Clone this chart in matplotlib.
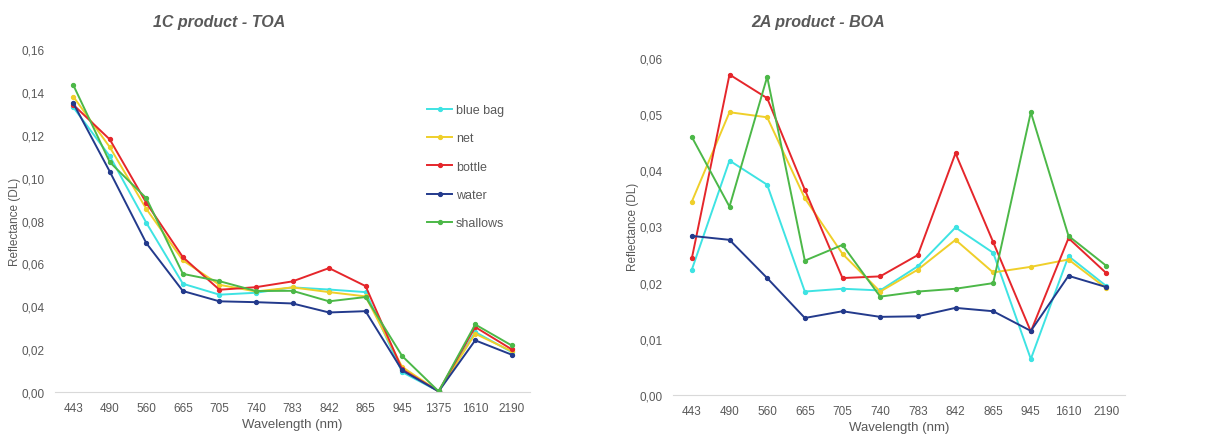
import matplotlib
matplotlib.use("Agg")
import matplotlib.pyplot as plt
from matplotlib.ticker import FuncFormatter

plt.rcParams["font.family"] = ["Liberation Sans", "DejaVu Sans"]

# wavelengths (nm)
toa_bands = ["443", "490", "560", "665", "705", "740", "783", "842", "865", "945", "1375", "1610", "2190"]
boa_bands = ["443", "490", "560", "665", "705", "740", "783", "842", "865", "945", "1610", "2190"]

# 1C product - TOA reflectance
toa_blue_bag = [0.1328, 0.110, 0.0789, 0.0505, 0.0454, 0.0463, 0.0488, 0.0478, 0.0466, 0.0093, 0.0003, 0.0280, 0.0186]
toa_net      = [0.1378, 0.1142, 0.0854, 0.0614, 0.0500, 0.0469, 0.0488, 0.0466, 0.0446, 0.0117, 0.0003, 0.0272, 0.0190]
toa_bottle   = [0.1340, 0.1178, 0.0882, 0.0629, 0.0477, 0.0489, 0.0516, 0.0578, 0.0494, 0.0106, 0.0003, 0.0303, 0.0199]
toa_water    = [0.1347, 0.1028, 0.0694, 0.0471, 0.0423, 0.0419, 0.0413, 0.0371, 0.0377, 0.0101, 0.0003, 0.0241, 0.0174]
toa_shallows = [0.1432, 0.1072, 0.0904, 0.0551, 0.0517, 0.0471, 0.0472, 0.0423, 0.0443, 0.0168, 0.0003, 0.0315, 0.0217]

# 2A product - BOA reflectance
boa_blue_bag = [0.0223, 0.0417, 0.0374, 0.0184, 0.0189, 0.0186, 0.0229, 0.0298, 0.0253, 0.0064, 0.0247, 0.0194]
boa_net      = [0.0344, 0.0503, 0.0494, 0.0350, 0.0251, 0.0184, 0.0223, 0.0276, 0.0218, 0.0228, 0.0241, 0.0190]
boa_bottle   = [0.0243, 0.0570, 0.0528, 0.0365, 0.0208, 0.0211, 0.0249, 0.0430, 0.0272, 0.0113, 0.0279, 0.0217]
boa_water    = [0.0283, 0.0276, 0.0208, 0.0137, 0.0149, 0.0139, 0.0140, 0.0155, 0.0149, 0.0114, 0.0212, 0.0192]
boa_shallows = [0.0459, 0.0335, 0.0566, 0.0239, 0.0267, 0.0175, 0.0184, 0.0189, 0.0199, 0.0503, 0.0283, 0.0230]

names = ["blue bag", "net", "bottle", "water", "shallows"]
colors = ["#3EE3E3", "#EFCF2A", "#E5262B", "#233A8C", "#4CB848"]

W, H = 1209, 435
fig = plt.figure(figsize=(W / 100, H / 100), dpi=100)
grey = "#595959"
comma = FuncFormatter(lambda v, p: f"{v:.2f}".replace(".", ","))


def draw(ax, bands, series, ymax, step):
    x = list(range(len(bands)))
    lines = []
    for vals, name, c in zip(series, names, colors):
        ln, = ax.plot(x, vals, color=c, lw=1.4, marker="o", ms=2.8, label=name)
        lines.append(ln)
    ax.set_xlim(-0.5, len(bands) - 0.5)
    ax.set_ylim(0, ymax)
    ax.set_xticks(x)
    ax.set_xticklabels(bands)
    ticks = [i * step for i in range(int(round(ymax / step)) + 1)]
    ax.set_yticks(ticks)
    ax.yaxis.set_major_formatter(comma)
    for s in ["top", "right", "left"]:
        ax.spines[s].set_visible(False)
    ax.spines["bottom"].set_color("#d9d9d9")
    ax.tick_params(length=0, labelsize=8.5, labelcolor=grey)
    ax.tick_params(axis="y", pad=7.2)
    ax.tick_params(axis="x", pad=7)
    ax.set_ylabel("Reflectance (DL)", fontsize=8.5, color=grey)
    ax.set_xlabel("Wavelength (nm)", fontsize=9.5, color=grey, labelpad=3)
    return lines


ax1 = fig.add_axes([55 / W, (H - 393) / H, 475 / W, 343 / H])
lines = draw(ax1, toa_bands, [toa_blue_bag, toa_net, toa_bottle, toa_water, toa_shallows], 0.16, 0.02)
ax1.yaxis.set_label_coords(-0.072, 0.5)

ax2 = fig.add_axes([673 / W, (H - 396) / H, 452 / W, 337.3 / H])
draw(ax2, boa_bands, [boa_blue_bag, boa_net, boa_bottle, boa_water, boa_shallows], 0.06, 0.01)
ax2.yaxis.set_label_coords(-0.076, 0.5)

fig.legend(handles=lines, loc="upper left", bbox_to_anchor=(416 / W, (H - 94) / H),
           frameon=False, fontsize=9, labelcolor=grey, handlelength=2.0,
           handletextpad=0.3, labelspacing=1.3)

fig.text(219 / W, 1 - 22 / H, "1C product - TOA", ha="center", va="center",
         fontsize=11.5, fontweight="bold", fontstyle="italic", color=grey)
fig.text(818 / W, 1 - 22 / H, "2A product - BOA", ha="center", va="center",
         fontsize=11.5, fontweight="bold", fontstyle="italic", color=grey)

fig.savefig("out.png", dpi=100)
